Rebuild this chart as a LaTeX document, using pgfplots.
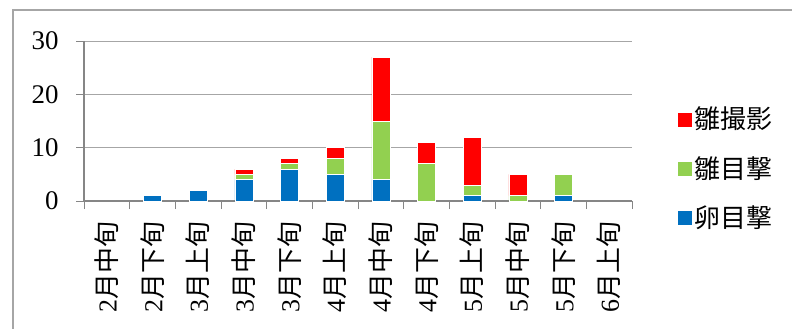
\documentclass[border=0pt]{standalone}
\usepackage{pgfplots}
\pgfplotsset{compat=1.18}
\usepackage{pgfplotstable}
\usepackage{fontspec}
\setmainfont{Liberation Serif}
\newfontfamily\cjk{Noto Sans CJK JP}

\definecolor{egg}{HTML}{0070C0}
\definecolor{chick}{HTML}{92D050}
\definecolor{photo}{HTML}{FF0000}
\definecolor{gridgray}{HTML}{A6A6A6}
\definecolor{axisgray}{HTML}{868686}

% counts per ten-day period: egg sightings, chick sightings, chick photos
\pgfplotstableread{
x egg chick photo
0  0  0  0
1  1  0  0
2  2  0  0
3  4  1  1
4  6  1  1
5  5  3  2
6  4 11 12
7  0  7  4
8  1  2  9
9  0  1  4
10 1  4  0
11 0  0  0
}\counts

\begin{document}
\begin{tikzpicture}[x=1bp,y=1bp]
\useasboundingbox (0,0) rectangle (792,328);
% outer chart frame
\draw[gridgray, line width=1.2bp] (13,-5) -- (13,318) -- (800,318);
\begin{axis}[
  at={(84bp,127bp)}, anchor=south west,
  scale only axis, width=548bp, height=160bp,
  ybar stacked, bar width=18bp,
  xmin=-0.5, xmax=11.5, ymin=0, ymax=30,
  ytick={0,10,20,30},
  xtick={0,...,11},
  xticklabels={{2{\cjk 月中旬}},{2{\cjk 月下旬}},{3{\cjk 月上旬}},{3{\cjk 月中旬}},{3{\cjk 月下旬}},{4{\cjk 月上旬}},{4{\cjk 月中旬}},{4{\cjk 月下旬}},{5{\cjk 月上旬}},{5{\cjk 月中旬}},{5{\cjk 月下旬}},{6{\cjk 月上旬}}},
  minor xtick={-0.5,0.5,...,11.5},
  major x tick style={draw=none},
  minor tick length=8bp, major tick length=8bp,
  tick align=outside,
  axis x line*=bottom, axis y line*=left,
  axis line style={axisgray, line width=1.2bp, -},
  every tick/.style={axisgray, line width=1bp},
  ymajorgrids, grid style={gridgray, line width=1bp},
  /pgf/number format/assume math mode=true,
  yticklabel style={font=\fontsize{27}{30}\selectfont, xshift=-14bp},
  xticklabel style={font=\fontsize{26}{30}\selectfont, rotate=90, anchor=east, xshift=-9bp},
  legend style={at={(axis description cs:1,0.206)}, anchor=west, xshift=45bp,
    draw=none, fill=none, inner sep=0pt, row sep=22bp,
    font=\fontsize{26}{30}\selectfont\cjk},
  legend cell align=left,
  reverse legend,
  legend image code/.code={\fill[#1] (0bp,-8bp) rectangle (15bp,7bp);},
]
\addplot[fill=egg, draw=white, line width=0.4bp] table[x=x,y=egg]{\counts};
\addlegendentry{卵目撃}
\addplot[fill=chick, draw=white, line width=0.4bp] table[x=x,y=chick]{\counts};
\addlegendentry{雛目撃}
\addplot[fill=photo, draw=white, line width=0.4bp] table[x=x,y=photo]{\counts};
\addlegendentry{雛撮影}
\end{axis}
\end{tikzpicture}
\end{document}
